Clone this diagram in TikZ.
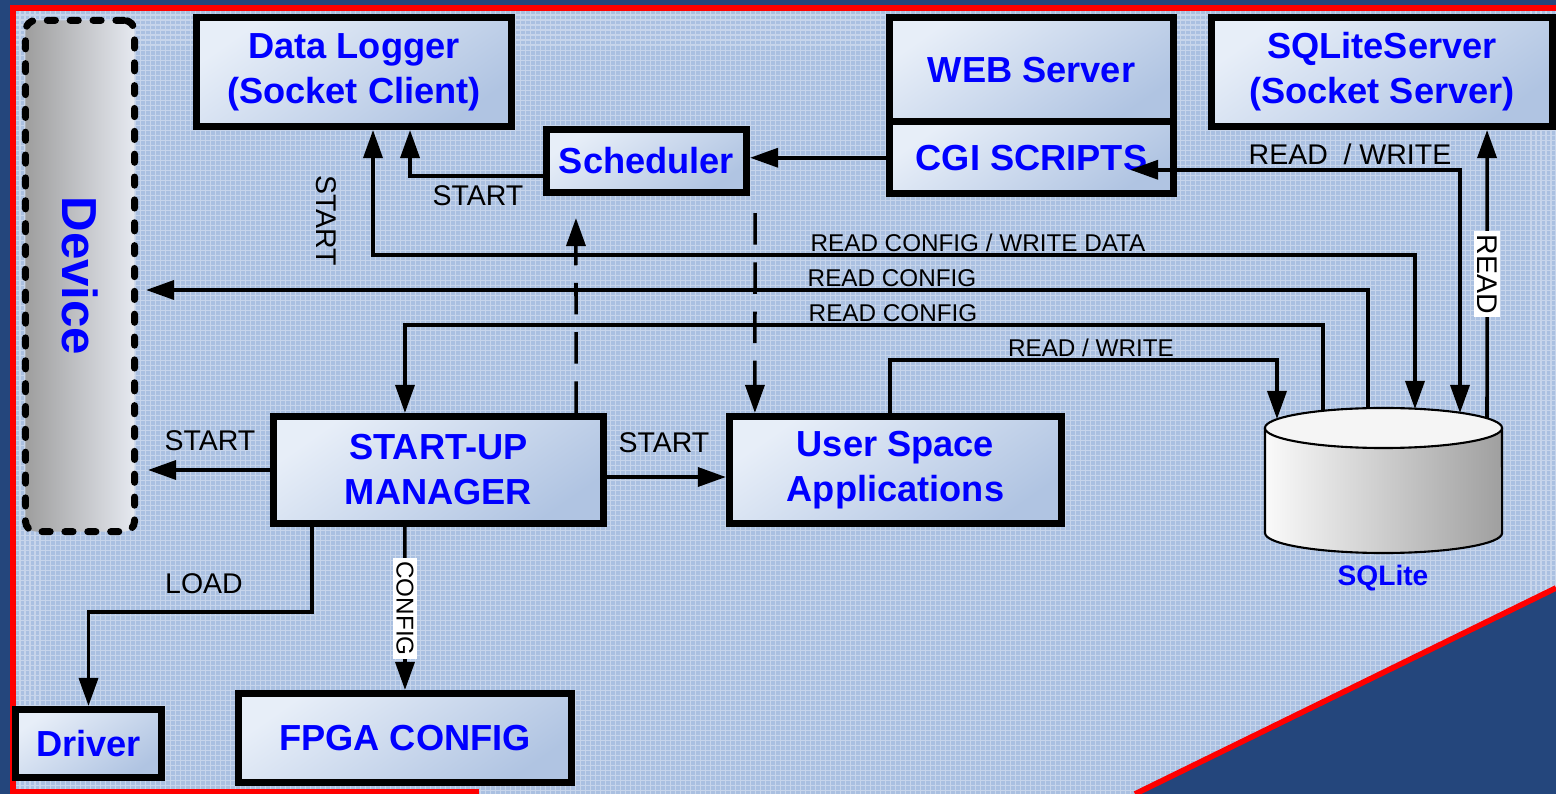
\documentclass[tikz,border=0pt]{standalone}
\usepackage{fontspec}
\setmainfont{Liberation Sans}
\usepackage{graphicx}
\usepackage{tikz}
\usetikzlibrary{arrows.meta}

\definecolor{deepbg}{RGB}{36,70,124}
\definecolor{gridbg}{RGB}{170,192,225}
\definecolor{frame}{RGB}{255,0,0}
\definecolor{boxhi}{RGB}{231,238,248}
\definecolor{boxlo}{RGB}{176,196,226}
\definecolor{devdark}{RGB}{158,158,158}
\definecolor{devlight}{RGB}{230,233,240}
\definecolor{txtblue}{RGB}{0,0,255}

\newcommand{\boxfont}{\fontsize{10.3}{12.8}\selectfont\bfseries}
\newcommand{\devfont}{\fontsize{14}{16}\selectfont\bfseries}
\newcommand{\tagfont}{\fontsize{6.9}{8}\selectfont}
\newcommand{\bigtagfont}{\fontsize{8.1}{9}\selectfont}
\newcommand{\dbfont}{\fontsize{8}{9}\selectfont\bfseries}

\begin{document}
\begin{tikzpicture}[x=0.01cm, y=-0.01cm]
    % `block' is used for the program boxes, `devbox' for the device.
    % `flow' is a solid connector, `trigger' a dashed one.
    % `tag' and `vtag' are connector texts; `vtagw' sits on a white patch.
    \tikzstyle{block} = [draw, line width=2pt, top color=boxhi, bottom color=boxlo, shading angle=35, text=txtblue, font=\boxfont, align=center, inner sep=0pt]
    \tikzstyle{devbox} = [draw, line width=2pt, dash pattern=on 2.3pt off 4.2pt, line cap=round, rounded corners=3pt, left color=devdark, right color=devlight, text=txtblue, font=\devfont, inner sep=0pt]
    \tikzstyle{flow} = [line width=1pt, -{Triangle[length=0.28cm, width=0.19cm]}]
    \tikzstyle{both} = [line width=1pt, {Triangle[length=0.28cm, width=0.19cm]}-{Triangle[length=0.28cm, width=0.19cm]}]
    \tikzstyle{trigger} = [flow, dash pattern=on 9pt off 5pt]
    \tikzstyle{tag} = [font=\tagfont, inner sep=0pt]
    \tikzstyle{tagl} = [font=\bigtagfont, inner sep=0pt]
    \tikzstyle{vtag} = [tagl, rotate=-90]
    \tikzstyle{vtagw} = [rotate=-90, fill=white, inner sep=1pt]
    %
    \useasboundingbox (0,0) rectangle (1556,794);
    % Draw backdrop and red frame.
    \fill[deepbg] (0,0) rectangle (1556,794);
    \begin{scope}
      \clip (13,8) -- (1556,8) -- (1556,588) -- (1135,794) -- (13,794) -- cycle;
      \fill[gridbg] (0,0) rectangle (1556,794);
      \draw[white, opacity=.35, line width=.3pt, step=0.05cm] (0,0) grid (1556,794);
    \end{scope}
    \draw[frame, line width=1.6pt] (1556,8) -- (13,8) -- (13,792) -- (479,792);
    \draw[frame, line width=1.6pt] (1135,794) -- (1556,588);
    %
    \node[devbox, minimum width=1.09cm, minimum height=5.11cm] (dev) at (80,276) {\rotatebox{-90}{Device}};
    \node[block, minimum width=3.15cm, minimum height=1.09cm] (dlog) at (354,72) {Data Logger\\(Socket Client)};
    \node[block, minimum width=2.00cm, minimum height=0.63cm] (sched) at (646.5,161) {Scheduler};
    \node[block, minimum width=2.84cm, minimum height=1.045cm] (web) at (1031.5,69.75) {WEB Server};
    \node[block, minimum width=2.84cm, minimum height=0.715cm] (cgi) at (1031.5,157.75) {CGI SCRIPTS};
    \node[block, minimum width=3.41cm, minimum height=1.09cm] (sqls) at (1382,72) {SQLiteServer\\(Socket Server)};
    \node[block, minimum width=3.30cm, minimum height=1.07cm] (sum) at (438.5,470) {START-UP\\MANAGER};
    \node[block, minimum width=3.32cm, minimum height=1.07cm] (usa) at (895.5,470) {User Space\\Applications};
    \node[block, minimum width=1.46cm, minimum height=0.68cm] (drv) at (88.5,743.5) {Driver};
    \node[block, minimum width=3.33cm, minimum height=0.89cm] (fpga) at (405,738) {FPGA CONFIG};
    %
    % Draw the SQLite drum.
    \shade[left color=gray!4, right color=gray!75] (1265,428) -- (1265,533) arc[start angle=180, end angle=360, x radius=1.185cm, y radius=0.2cm] -- (1502,428) -- cycle;
    \draw[line width=.6pt] (1265,428) -- (1265,533) arc[start angle=180, end angle=360, x radius=1.185cm, y radius=0.2cm] -- (1502,428);
    \draw[line width=.6pt, fill=gray!8] (1383.5,428) ellipse [x radius=1.185cm, y radius=0.2cm];
    \node[tag, font=\dbfont, text=txtblue] (dbname) at (1383,578) {SQLite};
    \coordinate (db1) at (1277,419);
    \coordinate (db2) at (1323,411);
    \coordinate (db3) at (1368,408);
    \coordinate (db4) at (1415,409);
    \coordinate (db5) at (1460,413);
    \coordinate (db6) at (1487,418);
    %
    % Draw connectors.
    \draw[flow] ([yshift=-1.5mm]sched.west) -| ([xshift=5.6mm]dlog.south);
    \draw[both] ([xshift=1.9mm]dlog.south) -- ++(0,125) -| (db4);
    \draw[flow, shorten >=0.8mm] (db3) |- ([yshift=-1.4mm]dev.east);
    \draw[flow] (db2) -- ++(0,-86) -| ([xshift=-3.35mm]sum.north);
    \draw[flow] ([xshift=-0.55mm]usa.north) -- ++(0,-53) -| (db1);
    \draw[both] (db5) |- ([xshift=-4.7mm, yshift=-1.2mm]cgi.east);
    \draw[flow] (db6) -- ([xshift=10.5mm]sqls.south) node[vtagw, font=\bigtagfont, midway] {READ};
    \draw[flow] (cgi.west) -- (sched.east |- cgi.west);
    \draw[trigger] ([xshift=13.75mm]sum.north) -- ([xshift=-7.05mm, yshift=-2.2mm]sched.south);
    \draw[trigger] ([xshift=10.85mm, yshift=-1.7mm]sched.south) -- ([xshift=-14.05mm]usa.north);
    \draw[flow, shorten >=1mm] (sum.west) -- (sum.west -| dev.east);
    \draw[flow] ([yshift=-0.7mm]sum.east) -- ([yshift=-0.7mm]usa.west);
    \draw[flow] ([xshift=-12.65mm]sum.south) -- ++(0,85) -| (drv.north);
    \draw[flow] ([xshift=-3.35mm]sum.south) -- (fpga.north) node[vtagw, font=\tagfont, midway] {CONFIG};
    %
    % Connector texts.
    \node[tagl] (t1) at (478,196) {START};
    \node[vtag] (t2) at (326,221) {START};
    \node[tag] (t3) at (978,243) {READ CONFIG / WRITE DATA};
    \node[tag] (t4) at (892,278) {READ CONFIG};
    \node[tag] (t5) at (893,313) {READ CONFIG};
    \node[tag] (t6) at (1091,348) {READ / WRITE};
    \node[tagl] (t7) at (1350,154) {READ~~/ WRITE};
    \node[tagl] (t8) at (210,441) {START};
    \node[tagl] (t9) at (664,443) {START};
    \node[tagl] (t10) at (204,584) {LOAD};
\end{tikzpicture}
\end{document}
